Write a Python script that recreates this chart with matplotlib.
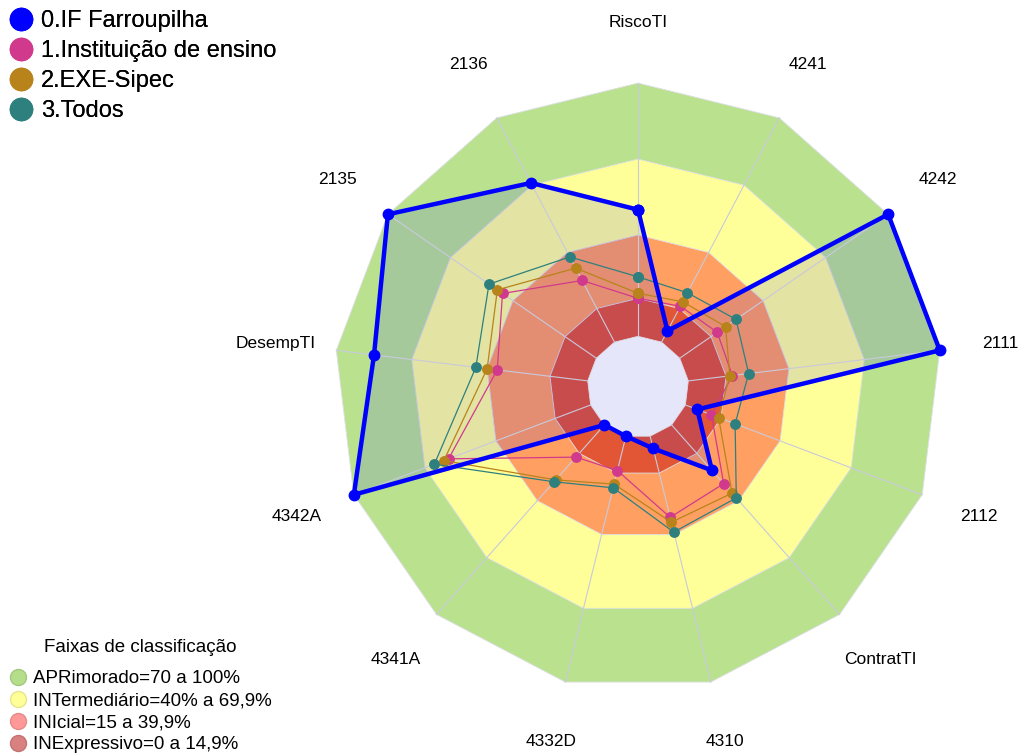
import numpy as np
import matplotlib
matplotlib.use("Agg")
import matplotlib.pyplot as plt
from matplotlib.lines import Line2D

plt.rcParams['font.family'] = ['Liberation Sans', 'DejaVu Sans']

# ── data ──────────────────────────────────────────────────────────────────────
axis_labels = ['RiscoTI', '4241', '4242', '2111', '2112', 'ContratTI', '4310',
               '4332D', '4341A', '4342A', 'DesempTI', '2135', '2136']

if_farroupilha = [50, 5, 100, 100, 5, 24, 5, 0, 0, 100, 85, 100, 71]
inst_ensino    = [15, 16, 18, 17.5, 11, 31, 33, 14, 17, 60, 36, 45, 27.5]
exe_sipec      = [17, 18, 22, 16.5, 14, 36, 35, 19.5, 29, 62, 40, 47.5, 33]
todos          = [23.5, 22, 27, 24, 21, 38.5, 39, 21, 30, 66, 44.5, 51.5, 38]

series_names = ['0.IF Farroupilha', '1.Instituição de ensino',
                '2.EXE-Sipec', '3.Todos']

band_upper  = [100, 70, 40, 15]
band_title  = 'Faixas de classificação'
band_labels = ['APRimorado=70 a 100%', 'INTermediário=40% a 69,9%',
               'INIcial=15 a 39,9%', 'INExpressivo=0 a 14,9%']

# ── style ─────────────────────────────────────────────────────────────────────
HOLE = 20          # radial offset: value 0 sits on the edge of the centre hole
LABEL_R = 144      # where the axis names go (in radial units)
N = len(axis_labels)

band_fill   = ['#bae28e', '#ffff99', '#ffa062', '#e25636']
band_legend = ['#b5de8a', '#ffff99', '#ff9999', '#d98080']
hole_color  = '#e6e6fa'
spoke_color = '#c9c9dc'
c_if, c_inst, c_exe, c_todos = '#0000ff', '#d13a8c', '#b8831a', '#2e807e'


def to_xy(vals, close=True):
    """Radar values -> cartesian x, y (clockwise from the top)."""
    vals = np.asarray(vals, dtype=float)
    theta = 2 * np.pi * np.arange(N) / N
    r = HOLE + vals
    x, y = r * np.sin(theta), r * np.cos(theta)
    if close:
        x, y = np.append(x, x[0]), np.append(y, y[0])
    return x, y


fig = plt.figure(figsize=(10.21, 7.56), dpi=100)
ax = fig.add_axes([0, 0, 1, 1])
ax.set_xlim(-251.9, 151.2)
ax.set_ylim(-145.7, 152.8)
ax.axis('off')

# classification bands
for upper, col in zip(band_upper, band_fill):
    ax.fill(*to_xy([upper] * N), facecolor=col, edgecolor='#dedee8', lw=0.6, zorder=1)

# IF area (tint), then the centre hole on top of it
ax.fill(*to_xy(if_farroupilha), facecolor=c_if, alpha=0.11, lw=0, zorder=2)
ax.fill(*to_xy([0] * N), facecolor=hole_color, edgecolor='#dedee8', lw=0.6, zorder=2.5)

# spokes
xo, yo = to_xy([100] * N, close=False)
xi, yi = to_xy([0] * N, close=False)
for k in range(N):
    ax.plot([xi[k], xo[k]], [yi[k], yo[k]], color=spoke_color, lw=0.8, zorder=3)

# axis names
xl, yl = to_xy([LABEL_R - HOLE] * N, close=False)
for k, lbl in enumerate(axis_labels):
    ax.text(xl[k], yl[k], lbl, ha='center', va='center', fontsize=12.5)

# series
for vals, col in [(inst_ensino, c_inst), (exe_sipec, c_exe), (todos, c_todos)]:
    ax.plot(*to_xy(vals), color=col, lw=0.9, marker='o', ms=6.8, zorder=4)
ax.plot(*to_xy(if_farroupilha), color=c_if, lw=3.2, marker='o', ms=7.5, zorder=5)

# legends
h1 = [Line2D([], [], ls='', marker='o', ms=16, color=c, mec=c)
      for c in (c_if, c_inst, c_exe, c_todos)]
leg1 = fig.legend(h1, series_names, loc='upper left', bbox_to_anchor=(-0.007, 1.008),
                  frameon=False, fontsize=17, handlelength=1.0, handletextpad=0.35,
                  labelspacing=0.33, borderaxespad=0.3)

h2 = [Line2D([], [], ls='', marker='o', ms=11.5, color=c,
             mec=matplotlib.colors.to_hex(np.array(matplotlib.colors.to_rgb(c)) * 0.9))
      for c in band_legend]
leg2 = fig.legend(h2, band_labels, loc='lower left', bbox_to_anchor=(-0.004, -0.014),
                  frameon=False, fontsize=13.5, handlelength=1.0, handletextpad=0.3,
                  labelspacing=0.26, borderaxespad=0.3)
fig.add_artist(leg1)
fig.text(140 / 1021, 1 - 647 / 756, band_title, ha='center', va='center', fontsize=13.5)

fig.savefig('out.png', dpi=100)
